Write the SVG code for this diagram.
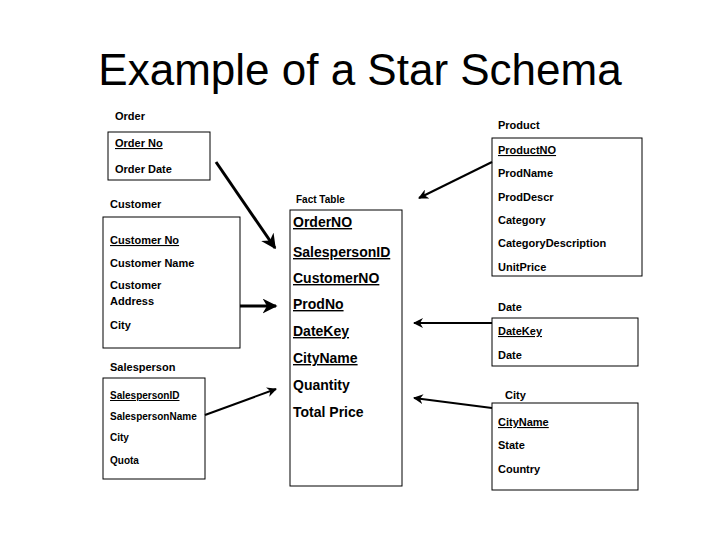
<svg xmlns="http://www.w3.org/2000/svg" width="720" height="540" viewBox="0 0 720 540">
<defs>
<style>
text{font-family:"Liberation Sans",Arial,sans-serif;font-weight:bold;fill:#000;font-size:11px}
.t{font-weight:normal;font-size:44px}
.f{font-size:14px}
.s{font-size:10px}
.k{text-decoration:underline}
rect{fill:#fff;stroke:#000;stroke-width:1}
.c line{stroke:#000}
</style>
<marker id="a" viewBox="0 0 10 10" refX="9" refY="5" markerWidth="5" markerHeight="5" orient="auto" markerUnits="strokeWidth"><path d="M0,0 L10,5 L0,10 L3,5 z" fill="#000"/></marker>
</defs>
<rect x="0" y="0" width="720" height="540" style="stroke:none"/>
<text class="t" x="360" y="85" text-anchor="middle">Example of a Star Schema</text>
<g id="order">
<text x="115" y="120">Order</text>
<rect x="108" y="132" width="102" height="48"/>
<text class="k" x="115" y="147">Order No</text>
<text x="115" y="173">Order Date</text>
</g>
<g id="customer">
<text x="110" y="208">Customer</text>
<rect x="103" y="217" width="137" height="131"/>
<text class="k" x="110" y="244">Customer No</text>
<text x="110" y="267">Customer Name</text>
<text x="110" y="289">Customer</text>
<text x="110" y="305">Address</text>
<text x="110" y="329">City</text>
</g>
<g id="salesperson">
<text x="110" y="371">Salesperson</text>
<rect x="103" y="378" width="102" height="101"/>
<text class="k s" x="110" y="399">SalespersonID</text>
<text class="s" x="110" y="420">SalespersonName</text>
<text class="s" x="110" y="441">City</text>
<text class="s" x="110" y="464">Quota</text>
</g>
<g id="fact">
<text class="s" x="296" y="203">Fact Table</text>
<rect x="290" y="210" width="112" height="276"/>
<text class="f k" x="293" y="227">OrderNO</text>
<text class="f k" x="293" y="257">SalespersonID</text>
<text class="f k" x="293" y="283">CustomerNO</text>
<text class="f k" x="293" y="309">ProdNo</text>
<text class="f k" x="293" y="336">DateKey</text>
<text class="f k" x="293" y="363">CityName</text>
<text class="f" x="293" y="390">Quantity</text>
<text class="f" x="293" y="417">Total Price</text>
</g>
<g id="product">
<text x="498" y="129">Product</text>
<rect x="492" y="138" width="150" height="138"/>
<text class="k" x="498" y="154">ProductNO</text>
<text x="498" y="177">ProdName</text>
<text x="498" y="201">ProdDescr</text>
<text x="498" y="224">Category</text>
<text x="498" y="247">CategoryDescription</text>
<text x="498" y="271">UnitPrice</text>
</g>
<g id="date">
<text x="498" y="311">Date</text>
<rect x="492" y="318" width="146" height="48"/>
<text class="k" x="498" y="335">DateKey</text>
<text x="498" y="359">Date</text>
</g>
<g id="city">
<text x="505" y="399">City</text>
<rect x="492" y="403" width="146" height="87"/>
<text class="k" x="498" y="426">CityName</text>
<text x="498" y="449">State</text>
<text x="498" y="473">Country</text>
</g>
<g class="c">
<line x1="216" y1="162" x2="275" y2="248" stroke-width="3" marker-end="url(#a)"/>
<line x1="240" y1="306" x2="276" y2="306" stroke-width="3" marker-end="url(#a)"/>
<line x1="205" y1="415" x2="276" y2="389" stroke-width="2" marker-end="url(#a)"/>
<line x1="492" y1="162" x2="419" y2="198" stroke-width="2" marker-end="url(#a)"/>
<line x1="492" y1="323" x2="414" y2="323" stroke-width="2" marker-end="url(#a)"/>
<line x1="492" y1="408" x2="414" y2="398" stroke-width="2" marker-end="url(#a)"/>
</g>
</svg>
